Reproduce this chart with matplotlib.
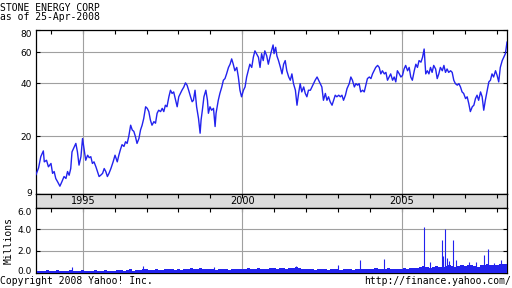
import matplotlib
matplotlib.use("Agg")
import matplotlib.pyplot as plt
from matplotlib.ticker import NullLocator
from matplotlib.transforms import ScaledTranslation

# ---------------- data ----------------
title = "STONE ENERGY CORP"
subtitle = "as of 25-Apr-2008"

dates = [
    1993.53, 1993.61, 1993.68, 1993.76, 1993.79, 1993.86, 1993.92, 1994.00, 1994.05, 1994.10,
    1994.15, 1994.21, 1994.28, 1994.34, 1994.41, 1994.47, 1994.52, 1994.57, 1994.62, 1994.66,
    1994.73, 1994.78, 1994.83, 1994.88, 1994.94, 1994.99, 1995.04, 1995.09, 1995.15, 1995.20,
    1995.25, 1995.30, 1995.35, 1995.41, 1995.46, 1995.51, 1995.56, 1995.62, 1995.67, 1995.72,
    1995.77, 1995.82, 1995.88, 1995.95, 1996.01,
    1996.08, 1996.13, 1996.18, 1996.23, 1996.29, 1996.34, 1996.39, 1996.44, 1996.50, 1996.55,
    1996.60, 1996.65, 1996.70, 1996.76, 1996.81, 1996.86, 1996.91, 1996.97,
    1997.02, 1997.07, 1997.12, 1997.17, 1997.23, 1997.28, 1997.33, 1997.38, 1997.44, 1997.49,
    1997.54, 1997.59, 1997.64, 1997.70, 1997.75, 1997.80, 1997.85, 1997.91, 1997.96,
    1998.01, 1998.06, 1998.11, 1998.17, 1998.22, 1998.27, 1998.32, 1998.38, 1998.43,
    1998.47, 1998.52, 1998.57, 1998.63, 1998.68, 1998.71, 1998.75, 1998.80, 1998.86, 1998.91,
    1998.94, 1998.99,
    1999.04, 1999.10, 1999.15, 1999.18, 1999.25, 1999.30, 1999.36, 1999.41, 1999.46, 1999.51,
    1999.57, 1999.62, 1999.67, 1999.72, 1999.77, 1999.83, 1999.88, 1999.93, 1999.98,
    2000.04, 2000.09, 2000.14, 2000.19, 2000.24, 2000.30, 2000.35, 2000.40, 2000.45, 2000.51,
    2000.56, 2000.61, 2000.66, 2000.71, 2000.77, 2000.82, 2000.87,
    2000.92, 2000.97,
    2001.00, 2001.05, 2001.09, 2001.14, 2001.20, 2001.25, 2001.30, 2001.35, 2001.40, 2001.46,
    2001.51, 2001.56, 2001.61, 2001.67, 2001.72, 2001.77, 2001.82, 2001.87, 2001.93, 2001.98,
    2002.03, 2002.08, 2002.14, 2002.19, 2002.24, 2002.29, 2002.35, 2002.40, 2002.45, 2002.50,
    2002.55, 2002.61, 2002.66, 2002.71, 2002.76, 2002.82, 2002.87, 2002.92, 2002.97,
    2003.03, 2003.08, 2003.13, 2003.18, 2003.24, 2003.29,
    2003.36, 2003.41, 2003.46, 2003.52, 2003.57, 2003.62, 2003.67, 2003.72, 2003.78, 2003.83,
    2003.88, 2003.93, 2003.99,
    2004.04, 2004.09, 2004.14, 2004.19, 2004.25, 2004.30, 2004.35, 2004.40, 2004.46, 2004.51,
    2004.56, 2004.61, 2004.66, 2004.72, 2004.77, 2004.82, 2004.87, 2004.93, 2004.98,
    2005.03, 2005.08, 2005.13, 2005.19, 2005.24, 2005.29, 2005.34, 2005.40, 2005.45, 2005.50,
    2005.55, 2005.61, 2005.66, 2005.71, 2005.76,
    2005.81, 2005.86, 2005.91, 2005.96,
    2006.01, 2006.07, 2006.12, 2006.17, 2006.22, 2006.28, 2006.33, 2006.38, 2006.43, 2006.48,
    2006.54, 2006.59, 2006.64, 2006.69, 2006.75, 2006.80, 2006.85, 2006.90, 2006.95,
    2007.01, 2007.06, 2007.11, 2007.16, 2007.22, 2007.27, 2007.32, 2007.37, 2007.42, 2007.48,
    2007.53, 2007.58, 2007.63, 2007.69, 2007.74, 2007.79, 2007.84, 2007.89, 2007.95,
    2008.00, 2008.05, 2008.10, 2008.16, 2008.21, 2008.26, 2008.31,
]

prices = [
    12.1, 13.2, 15.3, 16.5, 14.3, 14.6, 13.4, 14.0, 12.3, 12.6,
    11.5, 11.0, 10.4, 11.0, 11.8, 11.5, 12.6, 12.0, 13.1, 16.3,
    17.4, 18.2, 16.3, 13.7, 15.3, 19.4, 16.8, 14.6, 15.6, 15.1,
    15.3, 14.0, 14.3, 13.4, 12.6, 11.8, 12.0, 12.3, 13.1, 12.6,
    11.8, 12.3, 13.1, 14.3, 15.6,
    14.3, 15.6, 16.8, 17.9, 17.5, 18.6, 18.2, 19.9, 23.1, 21.7,
    21.3, 19.9, 18.2, 19.4, 21.7, 23.1, 25.2, 29.4,
    28.8, 27.6, 24.7, 23.1, 24.2, 23.7, 27.0, 28.1, 27.6, 28.8,
    27.6, 30.0, 29.4, 33.5, 36.5, 35.0, 35.7, 32.0, 29.4,
    33.5, 35.0, 36.5, 38.1, 40.2, 39.0, 36.5, 33.5, 31.4,
    32.0, 36.5, 29.4, 25.2, 20.8, 24.7, 28.1, 33.5, 36.5, 32.0,
    27.0, 29.4,
    28.1, 28.8, 22.7, 27.0, 32.0, 35.0, 38.1, 41.6, 42.5, 45.2,
    49.2, 51.3, 55.0, 51.3, 47.1, 49.2, 43.4, 36.5, 33.5,
    36.5, 38.1, 43.4, 47.1, 51.3, 49.2, 56.2, 61.1, 58.9, 56.2,
    49.2, 58.9, 53.8, 61.1, 57.2, 51.3, 56.2,
    61.1, 66.0,
    58.9, 64.0, 57.2, 53.8, 49.2, 45.2, 51.3, 53.8, 47.1, 43.4,
    41.6, 45.2, 39.8, 36.5, 30.0, 35.0, 39.8, 35.7, 38.1, 35.0,
    33.5, 36.5, 36.5, 38.1, 39.8, 41.6, 43.4, 41.6, 39.8, 38.1,
    32.0, 35.0, 32.0, 33.5, 31.4, 30.0, 32.0, 34.2, 33.5,
    34.2, 33.5, 34.2, 32.0, 34.2, 37.3,
    39.8, 43.4, 41.6, 38.1, 39.8, 39.0, 39.8, 35.7, 36.5, 35.7,
    39.0, 42.5, 43.4,
    42.5, 45.2, 47.1, 49.2, 50.5, 49.2, 45.2, 47.1, 45.2, 46.1,
    41.6, 43.4, 45.2, 41.6, 43.4, 40.7, 47.1, 45.2, 43.4,
    44.3, 48.2, 50.5, 47.1, 49.2, 43.4, 41.6, 47.1, 51.3, 49.2,
    53.8, 52.7, 56.2, 62.6, 45.2,
    47.1, 45.2, 49.2, 46.1,
    50.5, 48.2, 42.5, 45.2, 49.2, 47.1, 50.5, 46.1, 48.2, 46.1,
    47.1, 46.1, 41.6, 39.8, 39.0, 39.8, 38.1, 35.7, 35.0,
    32.7, 33.5, 30.7, 27.6, 29.4, 30.0, 32.7, 34.2, 32.0, 35.7,
    33.5, 28.1, 32.0, 36.5, 40.7, 41.6, 45.2, 43.4, 47.1,
    44.3, 40.7, 49.2, 53.8, 56.2, 58.9, 68.5,
]

# base daily-volume level (millions), sampled every ~0.1 year
vol_dates = [
    1993.6, 1993.7, 1993.8, 1993.9,
    1994.0, 1994.1, 1994.2, 1994.3, 1994.4, 1994.5, 1994.6, 1994.7, 1994.8, 1994.9,
    1995.0, 1995.1, 1995.2, 1995.3, 1995.4, 1995.5, 1995.6, 1995.7, 1995.8, 1995.9,
    1996.0, 1996.1, 1996.2, 1996.3, 1996.4, 1996.5, 1996.6, 1996.7, 1996.8, 1996.9,
    1997.0, 1997.1, 1997.2, 1997.3, 1997.4, 1997.5, 1997.6, 1997.7, 1997.8, 1997.9,
    1998.0, 1998.1, 1998.2, 1998.3, 1998.4, 1998.5, 1998.6, 1998.7, 1998.8, 1998.9,
    1999.0, 1999.1, 1999.2, 1999.3, 1999.4, 1999.5, 1999.6, 1999.7, 1999.8, 1999.9,
    2000.0, 2000.1, 2000.2, 2000.3, 2000.4, 2000.5, 2000.6, 2000.7, 2000.8, 2000.9,
    2001.0, 2001.1, 2001.2, 2001.3, 2001.4, 2001.5, 2001.6, 2001.7, 2001.8, 2001.9,
    2002.0, 2002.1, 2002.2, 2002.3, 2002.4, 2002.5, 2002.6, 2002.7, 2002.8, 2002.9,
    2003.0, 2003.1, 2003.2, 2003.3, 2003.4, 2003.5, 2003.6, 2003.7, 2003.8, 2003.9,
    2004.0, 2004.1, 2004.2, 2004.3, 2004.4, 2004.5, 2004.6, 2004.7, 2004.8, 2004.9,
    2005.0, 2005.1, 2005.2, 2005.3, 2005.4, 2005.5, 2005.6, 2005.7, 2005.8, 2005.9,
    2006.0, 2006.1, 2006.2, 2006.3, 2006.4, 2006.5, 2006.6, 2006.7, 2006.8, 2006.9,
    2007.0, 2007.1, 2007.2, 2007.3, 2007.4, 2007.5, 2007.6, 2007.7, 2007.8, 2007.9,
    2008.0, 2008.1, 2008.2, 2008.3,
]
vol_base = [
    0.10, 0.15, 0.10, 0.20,
    0.15, 0.10, 0.20, 0.10, 0.15, 0.10, 0.20, 0.10, 0.15, 0.10,
    0.20, 0.15, 0.10, 0.15, 0.20, 0.10, 0.15, 0.20, 0.10, 0.15,
    0.15, 0.20, 0.25, 0.15, 0.20, 0.30, 0.15, 0.20, 0.25, 0.30,
    0.30, 0.25, 0.20, 0.30, 0.25, 0.20, 0.30, 0.35, 0.30, 0.25,
    0.30, 0.25, 0.35, 0.30, 0.40, 0.30, 0.35, 0.40, 0.30, 0.35,
    0.30, 0.35, 0.25, 0.30, 0.35, 0.30, 0.25, 0.30, 0.35, 0.30,
    0.35, 0.30, 0.40, 0.35, 0.30, 0.40, 0.35, 0.30, 0.35, 0.40,
    0.40, 0.35, 0.45, 0.40, 0.35, 0.40, 0.45, 0.50, 0.40, 0.35,
    0.30, 0.35, 0.30, 0.25, 0.30, 0.35, 0.30, 0.25, 0.30, 0.30,
    0.30, 0.25, 0.30, 0.35, 0.30, 0.25, 0.30, 0.35, 0.30, 0.30,
    0.30, 0.35, 0.40, 0.35, 0.30, 0.35, 0.40, 0.35, 0.30, 0.35,
    0.35, 0.40, 0.35, 0.40, 0.45, 0.40, 0.50, 0.60, 0.50, 0.45,
    0.50, 0.60, 0.55, 0.50, 0.60, 0.70, 0.60, 0.55, 0.60, 0.65,
    0.60, 0.65, 0.70, 0.60, 0.55, 0.65, 0.70, 0.75, 0.70, 0.65,
    0.70, 0.80, 0.75, 0.80,
]

# individual high-volume days (millions)
spike_dates = [1994.65, 1996.90, 1999.10, 2001.70, 2003.00, 2003.69, 2004.45,
               2005.72, 2005.90, 2006.28, 2006.31, 2006.37, 2006.42, 2006.50,
               2006.61, 2006.71, 2007.11, 2007.34, 2007.58, 2007.71, 2007.90, 2008.13]
spike_vols = [0.5, 0.6, 0.5, 0.6, 0.7, 1.17, 1.26,
              4.24, 1.0, 3.0, 1.5, 4.0, 1.3, 1.1,
              3.0, 1.2, 1.0, 1.0, 1.6, 2.15, 0.9, 1.2]

year_ticks = list(range(1994, 2009))
label_years = [1995, 2000, 2005]
price_ticks = [9.45, 20, 40, 60, 80]
price_tick_labels = ["9", "20", "40", "60", "80"]
vol_ticks = [0, 2, 4, 6]
vol_tick_labels = ["0.0", "2.0", "4.0", "6.0"]

# ---------------- style ----------------
BLUE = "#2222ee"
GRID = "#a0a0a0"
MONO = "DejaVu Sans Mono"
W, H = 512, 288
XLIM = (1993.53, 2008.31)


def rect(x0, y0, x1, y1):
    return [x0 / W, 1 - y1 / H, (x1 - x0) / W, (y1 - y0) / H]


fig = plt.figure(figsize=(W / 100, H / 100), dpi=100)
fig.patch.set_facecolor("white")

ax = fig.add_axes(rect(36, 29.5, 507, 193.5))
band = fig.add_axes(rect(36, 193.5, 507, 207.5))
axv = fig.add_axes(rect(36, 207.5, 507, 272.5))

# --- price panel ---
ax.plot(dates, prices, color=BLUE, lw=1.0, zorder=3)
ax.set_yscale("log")
ax.set_ylim(9.45, 80.8)
ax.set_xlim(*XLIM)
ax.set_yticks(price_ticks, labels=price_tick_labels)
ax.yaxis.set_minor_locator(NullLocator())
ax.set_xticks(year_ticks)
ax.xaxis.set_minor_locator(NullLocator())
ax.grid(axis="y", color=GRID, lw=0.8)
for yr in label_years:
    ax.axvline(yr, color=GRID, lw=0.8, zorder=1)
ax.set_axisbelow(True)
ax.tick_params(axis="x", direction="in", top=True, bottom=False, length=3,
               labelbottom=False, width=0.8)
ax.tick_params(axis="y", direction="in", left=True, right=True, length=3,
               labelsize=6.5, pad=3, width=0.8)

# --- year band ---
band.set_facecolor("#dcdcdc")
band.set_xlim(*XLIM)
band.set_ylim(0, 1)
band.set_yticks([])
band.set_xticks(year_ticks)
band.tick_params(axis="x", direction="in", top=True, bottom=False, length=3,
                 labelbottom=False, width=0.8)
for yr in label_years:
    band.text(yr, 0.45, str(yr), ha="center", va="center", fontsize=7,
              transform=band.get_xaxis_transform())

# --- volume panel ---
axv.bar(vol_dates, vol_base, width=0.1, color=BLUE, linewidth=0, zorder=3)
axv.vlines(spike_dates, 0, spike_vols, color=BLUE, lw=0.8, zorder=3)
axv.set_xlim(*XLIM)
axv.set_ylim(0, 6)
axv.set_yticks(vol_ticks, labels=vol_tick_labels)
axv.set_xticks(year_ticks)
axv.grid(axis="y", color=GRID, lw=0.8)
for yr in label_years:
    axv.axvline(yr, color=GRID, lw=0.8, zorder=1)
axv.set_axisbelow(True)
axv.tick_params(axis="x", direction="in", top=True, bottom=False, length=3,
                labelbottom=False, width=0.8)
axv.tick_params(axis="y", direction="in", left=True, right=True, length=3,
                labelsize=6.5, pad=3, width=0.8)

for a in (ax, band, axv):
    for s in a.spines.values():
        s.set_linewidth(0.9)
        s.set_color("black")


# nudge edge tick labels inward, like the reference
def nudge(label, dy_px):
    label.set_transform(label.get_transform() +
                        ScaledTranslation(0, dy_px / 100, fig.dpi_scale_trans))


plabels = ax.get_yticklabels()
nudge(plabels[0], 1)
nudge(plabels[-1], -3)
vlabels = axv.get_yticklabels()
nudge(vlabels[0], 2.5)
nudge(vlabels[-1], -4)

# --- texts ---
fig.text(0.0, 1 - 10.7 / H, title, family=MONO, fontsize=7, va="baseline")
fig.text(0.0, 1 - 20.3 / H, subtitle, family=MONO, fontsize=7, va="baseline")
fig.text(8.5 / W, 1 - 241 / H, "Millions", family=MONO, fontsize=7,
         rotation=90, ha="center", va="center")
fig.text(0.0, 1 - 284 / H, "Copyright 2008 Yahoo! Inc.", family=MONO,
         fontsize=7, va="baseline")
fig.text(511 / W, 1 - 284 / H, "http://finance.yahoo.com/", family=MONO,
         fontsize=7, va="baseline", ha="right")

fig.savefig("out.png", dpi=100)
